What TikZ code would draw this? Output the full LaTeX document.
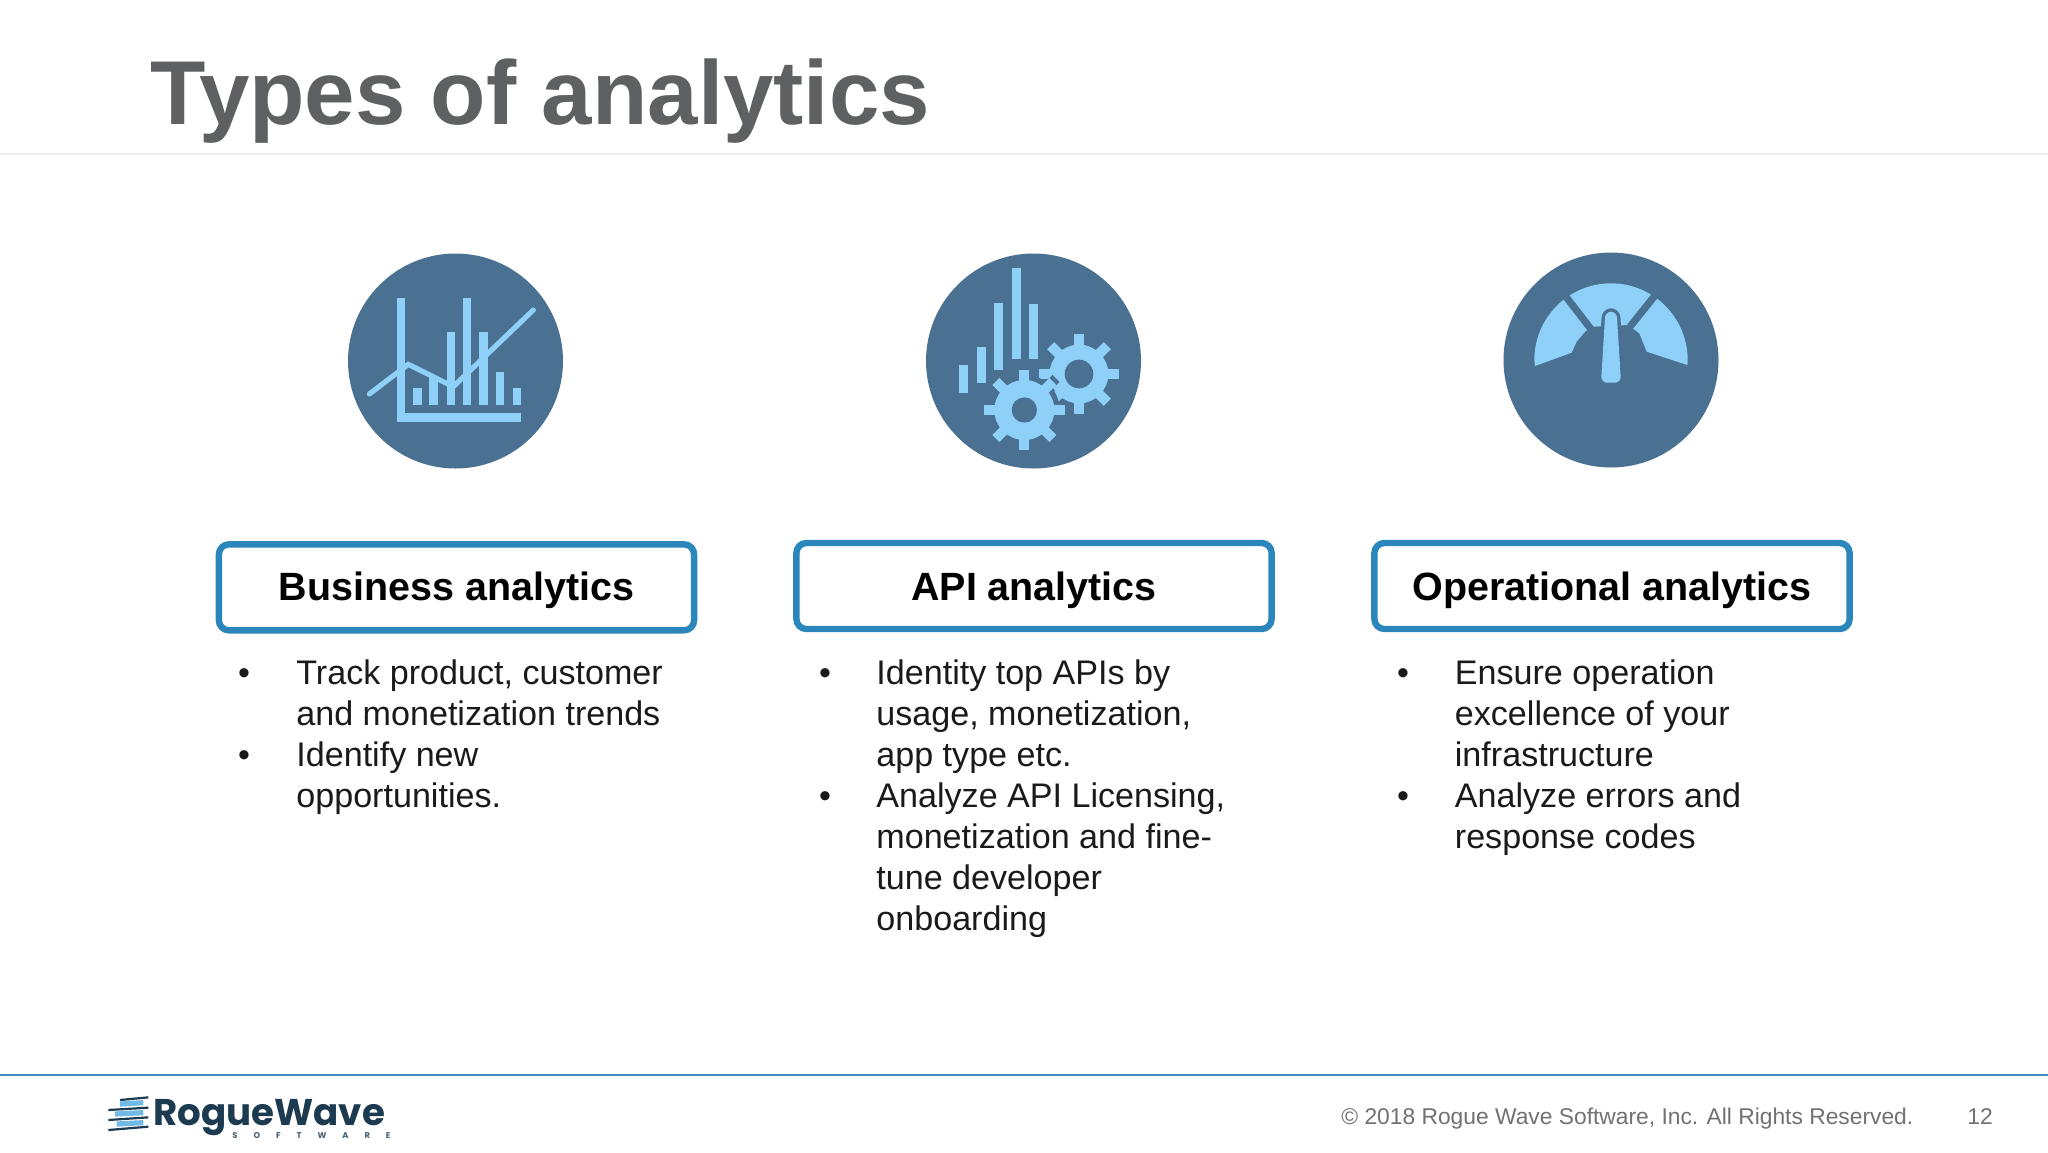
\documentclass[tikz,border=0pt]{standalone}
\usepackage{fontspec}
\setmainfont{Liberation Sans}
\newfontfamily\logofont{Poppins}
\newfontfamily\logotiny[LetterSpace=190]{Poppins}
\definecolor{titlegray}{HTML}{5F6062}
\definecolor{footgray}{HTML}{707174}
\definecolor{boxblue}{HTML}{2B87BB}
\definecolor{rulelight}{HTML}{EEEEEE}
\definecolor{footrule}{HTML}{3A8DC0}
\definecolor{discdark}{HTML}{4A7191}
\definecolor{iconlight}{HTML}{8FD0F8}
\definecolor{bodyink}{HTML}{1A1A1A}
\definecolor{logodark}{HTML}{1C3A50}
\tikzset{
  titletext/.style={anchor=base west,inner sep=0pt,font=\fontsize{45.35}{50}\selectfont\bfseries,text=titlegray},
  disc/.style={circle,fill=discdark,minimum size=107.5pt,inner sep=0pt},
  headbox/.style={draw=boxblue,line width=3.2pt,rounded corners=5pt,fill=white,minimum width=237.6pt,minimum height=43pt,inner sep=0pt,text height=18pt,text depth=4.2pt,font=\fontsize{19.72}{24}\selectfont\bfseries,text=black},
  bodyline/.style={anchor=base west,inner sep=0pt,font=\fontsize{17.05}{20}\selectfont,text=bodyink},
  bulletmark/.style={anchor=base,inner sep=0pt,font=\fontsize{17}{20}\selectfont,text=bodyink},
  foottext/.style={anchor=base west,inner sep=0pt,font=\fontsize{11.4}{14}\selectfont,text=footgray},
  icon/.style={x=0.5pt/3,y=-0.5pt/3},
  lightbar/.style={fill=iconlight},
}
\newcommand{\rwgear}[6]{%
  \foreach \ang in {0,45,...,315}{
    \fill[#6,shift={(#1,#2)},rotate=\ang] (-15,0) rectangle (15,#3);
  }
  \fill[#6] (#1,#2) circle (#4);
}
\begin{document}
\begin{tikzpicture}[x=0.5pt,y=-0.5pt]
\useasboundingbox (0,0) rectangle (2048,1152);
\fill[white] (0,0) rectangle (2048,1152);

% title and rules
\node[titletext] (title) at (150,124) {Types of analytics};
\coordinate (topL) at (0,154); \coordinate (topR) at (2048,154);
\draw[rulelight,line width=1pt] (topL) -- (topR);
\coordinate (footL) at (0,1075); \coordinate (footR) at (2048,1075);
\draw[footrule,line width=1.2pt] (footL) -- (footR);

% discs
\node[disc] (d1) at (455.5,361) {};
\node[disc] (d2) at (1033.5,361) {};
\node[disc] (d3) at (1611,360) {};

% icon 1
\begin{scope}[shift={(320,230)},icon]
  \fill[lightbar] (232,205) rectangle (255,575);
  \fill[lightbar] (232,550) rectangle (602,575);
  \foreach \xa/\xb/\yt in {278/305/475,328/353/440,380/405/305,430/453/205,478/503/305,528/553/425,578/602/475}{
    \fill[lightbar] (\xa,\yt) rectangle (\xb,525);
  }
  \draw[iconlight,line width=2.6pt,line cap=round,line join=miter] (148,492) -- (265,403) -- (400,470) -- (640,240);
\end{scope}

% icon 2
\begin{scope}[shift={(900,230)},icon]
  \foreach \xa/\xb/\yt/\yb in {178/205/405/490,230/257/352/460,283/310/220/420,335/362/115/388,388/415/222/388}{
    \fill[lightbar] (\xa,\yt) rectangle (\xb,\yb);
  }
  \rwgear{537}{432}{120}{88}{0}{iconlight}
  \fill[discdark] (537,432) circle (43);
  \rwgear{373}{540}{134}{106}{0}{discdark}
  \rwgear{373}{540}{121}{90}{0}{iconlight}
  \fill[discdark] (373,540) circle (38);
\end{scope}

% icon 3
\begin{scope}[shift={(1480,230)},icon]
  \begin{scope}
    \clip (165,408) -- (275,368) -- (290,335) -- (315,305) -- (340,290) -- (445,285) -- (478,310) -- (500,365) -- (622,405) -- (660,80) -- (125,80) -- cycle;
    \fill[iconlight] (393,390) circle (230);
  \end{scope}
  \draw[discdark,line width=3.6pt] (250,190) -- (335,300);
  \draw[discdark,line width=3.6pt] (530,190) -- (450,290);
  \draw[discdark,fill=discdark,line width=3.4pt,line join=round,rounded corners=3pt] (376,245) -- (410,245) -- (423,458) -- (363,458) -- cycle;
  \fill[iconlight,rounded corners=3pt] (376,245) -- (410,245) -- (423,458) -- (363,458) -- cycle;
\end{scope}

% heading boxes
\node[headbox,text height=17.6pt] (b1) at (456.5,587.3) {Business analytics};
\node[headbox,text height=18.4pt] (b2) at (1034,586) {API analytics};
\node[headbox,text height=18.4pt] (b3) at (1612,586) {Operational analytics};

% column 1
\node[bulletmark] (b1m1) at (244,684) {•};
\node[bulletmark] (b1m2) at (244,766) {•};
\node[bodyline] (c1l1) at (296,684) {Track product, customer};
\node[bodyline] (c1l2) at (296,725) {and monetization trends};
\node[bodyline] (c1l3) at (296,766) {Identify new};
\node[bodyline] (c1l4) at (296,807) {opportunities.};

% column 2
\node[bulletmark] (b2m1) at (825,684) {•};
\node[bulletmark] (b2m2) at (825,807) {•};
\node[bodyline] (c2l1) at (876,684) {Identity top APIs by};
\node[bodyline] (c2l2) at (876,725) {usage, monetization,};
\node[bodyline] (c2l3) at (876,766) {app type etc.};
\node[bodyline] (c2l4) at (876,807) {Analyze API Licensing,};
\node[bodyline] (c2l5) at (876,848) {monetization and fine-};
\node[bodyline] (c2l6) at (876,889) {tune developer};
\node[bodyline] (c2l7) at (876,930) {onboarding};

% column 3
\node[bulletmark] (b3m1) at (1403,684) {•};
\node[bulletmark] (b3m2) at (1403,807) {•};
\node[bodyline] (c3l1) at (1454.5,684) {Ensure operation};
\node[bodyline] (c3l2) at (1454.5,725) {excellence of your};
\node[bodyline] (c3l3) at (1454.5,766) {infrastructure};
\node[bodyline] (c3l4) at (1454.5,807) {Analyze errors and};
\node[bodyline] (c3l5) at (1454.5,848) {response codes};

% footer
\node[foottext] (copy) at (1341,1124) {© 2018 Rogue Wave Software, Inc. All Rights Reserved.};
\node[foottext] (page) at (1967,1124) {12};

% logo
\begin{scope}[shift={(80,1060)},icon]
  \foreach \ya/\yb/\xa/\xb in {120/112/120/205,150/143/85/205,180/172/85/205,210/200/85/205}{
    \draw[logodark,line width=1.1pt] (\xa,\ya) -- (\xb,\yb);
  }
  \foreach \ya/\yb/\xa/\xb in {132/128/120/190,162/158/105/190,192/188/110/190}{
    \draw[iconlight!70!boxblue,line width=2.6pt] (\xa,\ya) -- (\xb,\yb);
  }
\end{scope}
\node[anchor=base west,inner sep=0pt,font=\logofont\fontsize{18.6}{24}\selectfont\bfseries,text=logodark] (logo) at (153,1125) {RogueWave};
\node[anchor=base west,inner sep=0pt,font=\logotiny\fontsize{4.2}{5}\selectfont\bfseries,text=logodark!80] (logosub) at (232,1138) {SOFTWARE};
\end{tikzpicture}
\end{document}
